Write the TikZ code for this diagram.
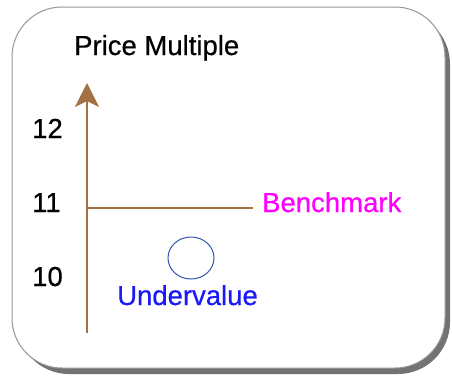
\documentclass[tikz,border=0pt]{standalone}
\usepackage{fontspec}
\setmainfont{Liberation Sans}[FakeBold=0.5]
\usetikzlibrary{positioning,arrows.meta,calc,shapes.geometric}
\definecolor{AxisBrown}{RGB}{163,113,66}
\definecolor{BenchPink}{RGB}{255,0,255}
\definecolor{UnderBlue}{RGB}{25,25,250}
\definecolor{RingBlue}{RGB}{50,88,175}
\definecolor{FrameGray}{RGB}{150,150,150}
\definecolor{ShadowGray}{RGB}{115,115,115}

\begin{document}
\begin{tikzpicture}[x=1pt,y=-1pt, every node/.style={font=\fontsize{27.5}{32}\selectfont, inner sep=0pt},
    axisline/.style={AxisBrown, line width=1.4pt}]
  \useasboundingbox (0,0) rectangle (452,375);
  % card with its shadow
  \fill[ShadowGray, rounded corners=52pt] (17,12) rectangle (450,374);
  \draw[FrameGray, fill=white, line width=1pt, rounded corners=50pt] (12,7) rectangle (445,368);
  % axis
  \coordinate (axbot) at (87,333);
  \coordinate (axtop) at (87,83);
  \draw[axisline, -{Stealth[length=24pt,width=24pt,inset=6pt]}] (axbot) -- (axtop);
  \node[anchor=base west] (title) at (74,55) {Price Multiple};
  \node[anchor=base west] (t12) at (32,138) {12};
  \node[anchor=base west] (t11) at (32,212) {11};
  \node[anchor=base west] (t10) at (32,286) {10};
  % benchmark level
  \node[anchor=base west, text=BenchPink] (bench) at (262,212) {Benchmark};
  \coordinate (b0) at (87,208);
  \draw[axisline, line width=1.2pt, shorten >=9pt] (b0) -- (b0 -| bench.west);
  % undervalued point
  \node[draw=RingBlue, line width=1pt, ellipse, minimum width=46pt, minimum height=42pt] (pt) at (191,258) {};
  \node[anchor=base west, text=UnderBlue] (under) at (117,305) {Undervalue};
\end{tikzpicture}
\end{document}
